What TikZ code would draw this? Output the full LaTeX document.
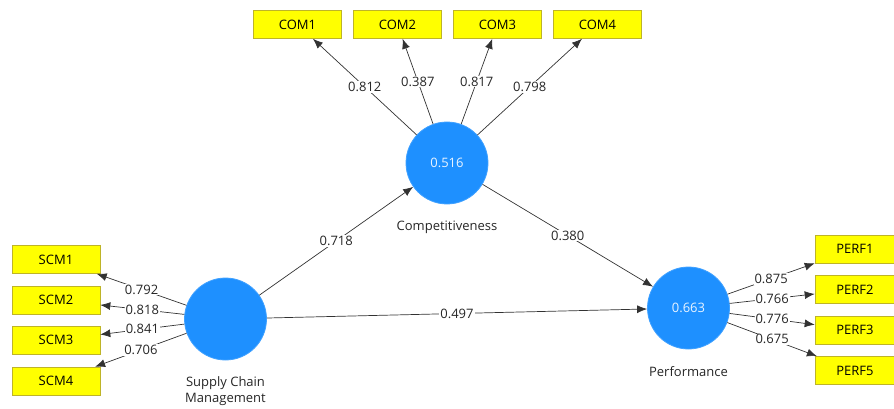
\documentclass[tikz,border=0pt]{standalone}
\usepackage{fontspec}
\setmainfont{Open Sans}
\usetikzlibrary{arrows.meta}
\definecolor{lvblue}{RGB}{30,144,255}
\definecolor{ind}{RGB}{255,255,0}
\definecolor{indborder}{RGB}{190,180,40}
\definecolor{linegray}{RGB}{50,50,50}
\begin{document}
\begin{tikzpicture}[x=1pt,y=-1pt,
  every node/.style={font=\fontsize{13}{16}\selectfont},
  latent/.style={circle,fill=lvblue,draw=lvblue!85!white,line width=0.8pt,minimum size=82pt,inner sep=0pt,text=white!90!lvblue},
  indicator/.style={rectangle,fill=ind,draw=indborder,line width=0.6pt,minimum width=88pt,minimum height=28pt,inner sep=0pt},
  caption/.style={align=center,text=black!85},
  conn/.style={draw=linegray,line width=0.7pt,-{Latex[length=10pt,width=8pt]}},
  coef/.style={fill=white,inner sep=1pt,pos=0.5,text=black!85}]
\useasboundingbox (0,0) rectangle (894,409);
% latent variables
\node[latent] (comp) at (447,163) {0.516};
\node[latent] (scm) at (225.5,319) {};
\node[latent] (perf) at (688.5,308) {0.663};
\node[caption] (compl) at (447,227) {Competitiveness};
\node[caption] (scml) at (225.5,391) {Supply Chain\\Management};
\node[caption] (perfl) at (688.5,372) {Performance};
% indicators
\node[indicator] (com1) at (297.5,24.5) {COM1};
\node[indicator] (com2) at (397.5,24.5) {COM2};
\node[indicator] (com3) at (497.5,24.5) {COM3};
\node[indicator] (com4) at (597.5,24.5) {COM4};
\node[indicator] (scm1) at (56,259.5) {SCM1};
\node[indicator] (scm2) at (56,300) {SCM2};
\node[indicator] (scm3) at (56,340) {SCM3};
\node[indicator] (scm4) at (56,381) {SCM4};
\node[indicator,minimum width=80pt] (perf1) at (855,249) {PERF1};
\node[indicator,minimum width=80pt] (perf2) at (855,289.5) {PERF2};
\node[indicator,minimum width=80pt] (perf3) at (855,330) {PERF3};
\node[indicator,minimum width=80pt] (perf5) at (855,370.5) {PERF5};
% outer loadings
\draw[conn] (comp) -- node[coef] {0.812} (com1);
\draw[conn] (comp) -- node[coef] {0.387} (com2);
\draw[conn] (comp) -- node[coef] {0.817} (com3);
\draw[conn] (comp) -- node[coef] {0.798} (com4);
\draw[conn] (scm) -- node[coef] {0.792} (scm1);
\draw[conn] (scm) -- node[coef] {0.818} (scm2);
\draw[conn] (scm) -- node[coef] {0.841} (scm3);
\draw[conn] (scm) -- node[coef] {0.706} (scm4);
\draw[conn] (perf) -- node[coef] {0.875} (perf1);
\draw[conn] (perf) -- node[coef] {0.766} (perf2);
\draw[conn] (perf) -- node[coef] {0.776} (perf3);
\draw[conn] (perf) -- node[coef] {0.675} (perf5);
% path coefficients
\draw[conn] (scm) -- node[coef] {0.718} (comp);
\draw[conn] (comp) -- node[coef] {0.380} (perf);
\draw[conn] (scm) -- node[coef] {0.497} (perf);
\end{tikzpicture}
\end{document}
